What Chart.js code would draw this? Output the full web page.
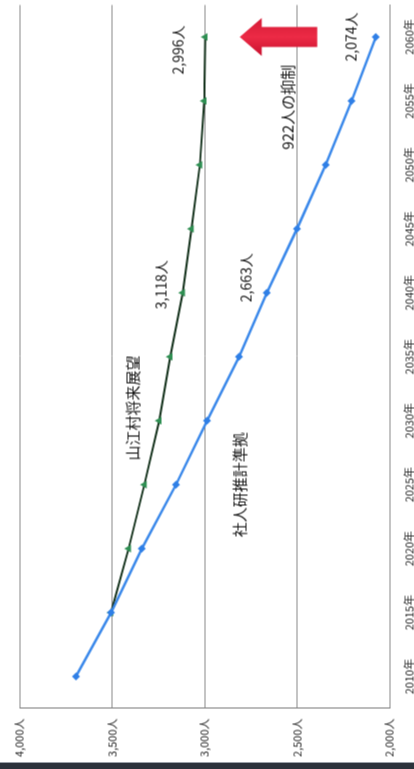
<!DOCTYPE html>
<html lang="ja">
<head>
<meta charset="utf-8">
<title>山江村 人口の将来展望</title>
<script src="https://cdn.jsdelivr.net/npm/chart.js@4.4.1/dist/chart.umd.min.js"></script>
<style>
  html, body { margin: 0; padding: 0; background: #fff; overflow: hidden; }
  body { width: 414px; height: 769px; position: relative; }
  /* the scan is a normal chart turned a quarter turn to the left */
  #wrap {
    position: absolute;
    width: 769px;
    height: 414px;
    left: -177.5px;
    top: 177.5px;
    transform: rotate(-90deg);
  }
  #edge {
    position: absolute;
    left: 0; right: 0; bottom: 0;
    height: 6px;
    background: #2c323b;
    border-top: 1px solid #9aa0a8;
  }
</style>
</head>
<body>
<div id="wrap"><canvas id="popChart"></canvas></div>
<div id="edge"></div>
<script>
const years = ["2010年", "2015年", "2020年", "2025年", "2030年", "2035年",
               "2040年", "2045年", "2050年", "2055年", "2060年"];
// 社人研推計準拠
const ipssValues = [3695, 3505, 3339, 3154, 2986, 2813, 2663, 2500, 2345, 2205, 2074];
// 山江村将来展望
const villageValues = [null, 3505, 3410, 3325, 3245, 3185, 3118, 3070, 3025, 3002, 2996];
const valueTicks = [2000, 2500, 3000, 3500, 4000];

const villageName = "山江村将来展望";
const ipssName = "社人研推計準拠";
const gapNote = "922人の抑制";

const font = '"Noto Sans CJK JP", "Noto Sans", sans-serif';

function fmt(v) {
    return v.toLocaleString("en-US") + "人";
}

const notesPlugin = {
    id: "notes",
    afterDatasetsDraw(chart) {
        const { ctx, scales: { x, y } } = chart;
        const last = years.length - 1;
        const mid = years.indexOf("2040年");

        ctx.save();
        ctx.fillStyle = "#151515";
        ctx.textAlign = "center";
        ctx.textBaseline = "middle";
        ctx.font = "14px " + font;

        // value labels beside the points
        ctx.fillText(fmt(villageValues[last]),
            x.getPixelForValue(last) - 13, y.getPixelForValue(villageValues[last]) - 27);
        ctx.fillText(fmt(ipssValues[last]),
            x.getPixelForValue(last), y.getPixelForValue(ipssValues[last]) - 25);
        ctx.fillText(fmt(villageValues[mid]),
            x.getPixelForValue(mid) + 8, y.getPixelForValue(villageValues[mid]) - 21);
        ctx.fillText(fmt(ipssValues[mid]),
            x.getPixelForValue(mid) + 15, y.getPixelForValue(ipssValues[mid]) - 21);

        // series names and the note
        ctx.font = "15px " + font;
        ctx.fillText(villageName, x.getPixelForValue(4.2), y.getPixelForValue(3390));
        ctx.fillText(ipssName, x.getPixelForValue(3), y.getPixelForValue(2810));
        ctx.fillText(gapNote, x.getPixelForValue(8.9), y.getPixelForValue(2550));

        // red arrow from the projection toward the plan
        const cx = x.getPixelForValue(last);
        const tip = y.getPixelForValue(2810);
        const base = y.getPixelForValue(2690);
        const tail = y.getPixelForValue(2390);
        ctx.beginPath();
        ctx.moveTo(cx, tip);
        ctx.lineTo(cx + 19, base);
        ctx.lineTo(cx + 10, base);
        ctx.lineTo(cx + 10, tail);
        ctx.lineTo(cx - 10, tail);
        ctx.lineTo(cx - 10, base);
        ctx.lineTo(cx - 19, base);
        ctx.closePath();
        const grad = ctx.createLinearGradient(cx - 19, 0, cx + 19, 0);
        grad.addColorStop(0, "#c8102e");
        grad.addColorStop(0.5, "#ec2a45");
        grad.addColorStop(1, "#d41a36");
        ctx.fillStyle = grad;
        ctx.fill();
        ctx.restore();
    },
};

const ctx = document.getElementById("popChart").getContext("2d");
const chart = new Chart(ctx, {
    type: "line",
    data: {
        labels: years,
        datasets: [
            {
                label: ipssName,
                data: ipssValues,
                borderColor: "#3a88ea",
                backgroundColor: "#2f7fe6",
                borderWidth: 2.5,
                pointStyle: "rectRot",
                pointRadius: 4,
                pointBorderWidth: 0,
                tension: 0,
            },
            {
                label: villageName,
                data: villageValues,
                borderColor: "#12301a",
                backgroundColor: "#2e8f52",
                borderWidth: 2,
                pointStyle: "triangle",
                pointRadius: 4.5,
                pointBorderWidth: 0,
                tension: 0,
            },
        ],
    },
    options: {
        responsive: true,
        maintainAspectRatio: false,
        animation: false,
        events: [],
        layout: {
            padding: { top: 19, right: 3, left: 0, bottom: 0 },
        },
        plugins: {
            legend: { display: false },
            tooltip: { enabled: false },
        },
        scales: {
            x: {
                offset: true,
                grid: { display: false },
                border: { display: true, color: "#8a8a8a", width: 1 },
                ticks: {
                    padding: 5,
                    color: "#222",
                    font: { family: font, size: 11 },
                    maxRotation: 0,
                    autoSkip: false,
                },
                afterFit(scale) {
                    scale.height = 25;
                },
            },
            y: {
                min: 2000,
                max: 4000,
                grid: { color: "#8a8a8a", lineWidth: 1, drawTicks: false },
                border: { display: true, color: "#7a7a7a", width: 1 },
                afterBuildTicks(scale) {
                    scale.ticks = valueTicks.map((v) => ({ value: v }));
                },
                ticks: {
                    padding: 10,
                    color: "#222",
                    font: { family: font, size: 11 },
                    callback: function (value) {
                        return fmt(value);
                    },
                },
                afterFit(scale) {
                    scale.width = 61;
                },
            },
        },
    },
    plugins: [notesPlugin],
});
</script>
</body>
</html>
